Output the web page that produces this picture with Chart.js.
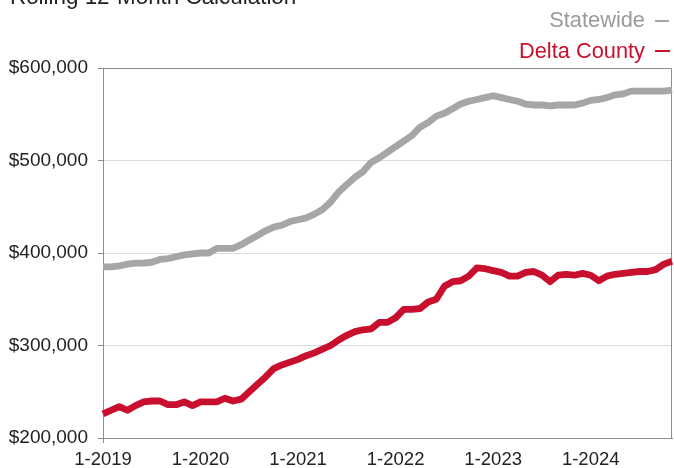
<!DOCTYPE html>
<html>
<head>
<meta charset="utf-8">
<script src="https://cdn.jsdelivr.net/npm/chart.js@4.4.1/dist/chart.umd.min.js"></script>
<style>
html,body{margin:0;padding:0;background:#fff;overflow:hidden}
#wrap{position:relative;width:674px;height:468px}
canvas{position:absolute;left:0;top:0}
.t{position:absolute;font-family:"Liberation Sans",Arial,Helvetica,sans-serif;line-height:1;white-space:nowrap}
.d{position:absolute;height:2px}
</style>
</head>
<body>
<div id="wrap">
<canvas id="c" width="674" height="468"></canvas>
<div class="t" style="left:10px;top:-14px;font-size:22.4px;color:#222">Rolling 12-Month Calculation</div>
<div class="t" style="right:29px;top:9px;font-size:21.8px;color:#9a9a9a">Statewide</div>
<div class="d" style="left:655px;top:20px;width:14px;background:#a6a6a6"></div>
<div class="t" style="right:29px;top:40px;font-size:21.8px;color:#c8102e">Delta County</div>
<div class="d" style="left:655px;top:50px;width:15px;background:#c8102e"></div>
</div>
<script>
const months = [
"1-2019","2-2019","3-2019","4-2019","5-2019","6-2019","7-2019","8-2019","9-2019","10-2019","11-2019","12-2019",
"1-2020","2-2020","3-2020","4-2020","5-2020","6-2020","7-2020","8-2020","9-2020","10-2020","11-2020","12-2020",
"1-2021","2-2021","3-2021","4-2021","5-2021","6-2021","7-2021","8-2021","9-2021","10-2021","11-2021","12-2021",
"1-2022","2-2022","3-2022","4-2022","5-2022","6-2022","7-2022","8-2022","9-2022","10-2022","11-2022","12-2022",
"1-2023","2-2023","3-2023","4-2023","5-2023","6-2023","7-2023","8-2023","9-2023","10-2023","11-2023","12-2023",
"1-2024","2-2024","3-2024","4-2024","5-2024","6-2024","7-2024","8-2024","9-2024","10-2024","11-2024"
];
const statewide = [
385000,385000,386000,388000,389000,389000,390000,393000,394000,396000,398000,399000,
400000,400000,405000,405000,405000,409000,414000,419000,424000,428000,430000,434000,
436000,438000,442000,447000,455000,466000,474000,482000,488000,498000,503000,509000,
515000,521000,527000,536000,541000,548000,551000,556000,561000,564000,566000,568000,
570000,568000,566000,564000,561000,560000,560000,559000,560000,560000,560000,562000,
565000,566000,568000,571000,572000,575000,575000,575000,575000,575000,576000
];
const deltaCounty = [
226000,230000,234000,230000,235000,239000,240000,240000,236000,236000,239000,235000,
239000,239000,239000,243000,240000,242000,250000,258000,266000,275000,279000,282000,
285000,289000,292000,296000,300000,306000,311000,315000,317000,318000,325000,325000,
330000,339000,339000,340000,347000,350000,364000,369000,370000,375000,384000,383000,
381000,379000,375000,375000,379000,380000,376000,369000,376000,377000,376000,378000,
376000,370000,375000,377000,378000,379000,380000,380000,382000,388000,391000
];
const yTicks = [200000,300000,400000,500000,600000];
const seriesNames = ["Statewide","Delta County"];

const frame = {
  id:'frame',
  beforeDatasetsDraw(chart){
    const a = chart.chartArea, ctx = chart.ctx;
    ctx.save();
    ctx.strokeStyle = '#8c8c8c';
    ctx.lineWidth = 1;
    ctx.beginPath();
    ctx.moveTo(a.left, a.top + 0.5);
    ctx.lineTo(a.right - 0.5, a.top + 0.5);
    ctx.lineTo(a.right - 0.5, a.bottom);
    ctx.stroke();
    ctx.restore();
  }
};

const fam = '"Liberation Sans", Arial, Helvetica, sans-serif';

new Chart(document.getElementById('c'), {
  type:'line',
  data:{
    labels: months,
    datasets:[
      {label:seriesNames[0], data:statewide, borderColor:'#a6a6a6', borderWidth:6.8, pointRadius:0, tension:0, borderJoinStyle:'round', borderCapStyle:'butt'},
      {label:seriesNames[1], data:deltaCounty, borderColor:'#c8102e', borderWidth:6.8, pointRadius:0, tension:0, borderJoinStyle:'round', borderCapStyle:'butt'}
    ]
  },
  options:{
    responsive:false,
    devicePixelRatio:1,
    animation:false,
    layout:{padding:{top:68,right:2,left:0,bottom:0}},
    plugins:{legend:{display:false}, title:{display:false}, tooltip:{enabled:false}},
    scales:{
      x:{
        type:'category',
        offset:false,
        afterFit(s){ s.height = 30; },
        grid:{
          color:(c)=> (c.index % 12 === 0 ? '#dcdcdc' : 'rgba(0,0,0,0)'),
          tickColor:(c)=> (c.index % 12 === 0 ? '#8c8c8c' : 'rgba(0,0,0,0)'),
          tickLength:5, lineWidth:1
        },
        border:{display:true, color:'#8c8c8c', width:1},
        ticks:{
          autoSkip:false, maxRotation:0, minRotation:0, padding:6,
          color:'#222', font:{family:fam, size:18.5},
          callback(v, i){ return i % 12 === 0 ? months[i] : null; }
        }
      },
      y:{
        min:yTicks[0], max:yTicks[yTicks.length-1],
        afterFit(s){ s.width = 103; },
        afterBuildTicks(s){ s.ticks = yTicks.map(v=>({value:v})); },
        grid:{color:'#dcdcdc', tickColor:'#8c8c8c', tickLength:5, lineWidth:1},
        border:{display:true, color:'#8c8c8c', width:1},
        ticks:{
          padding:10, color:'#222', font:{family:fam, size:19},
          callback(v){ return '$' + Number(v).toLocaleString('en-US'); }
        }
      }
    }
  },
  plugins:[frame]
});
</script>
</body>
</html>
